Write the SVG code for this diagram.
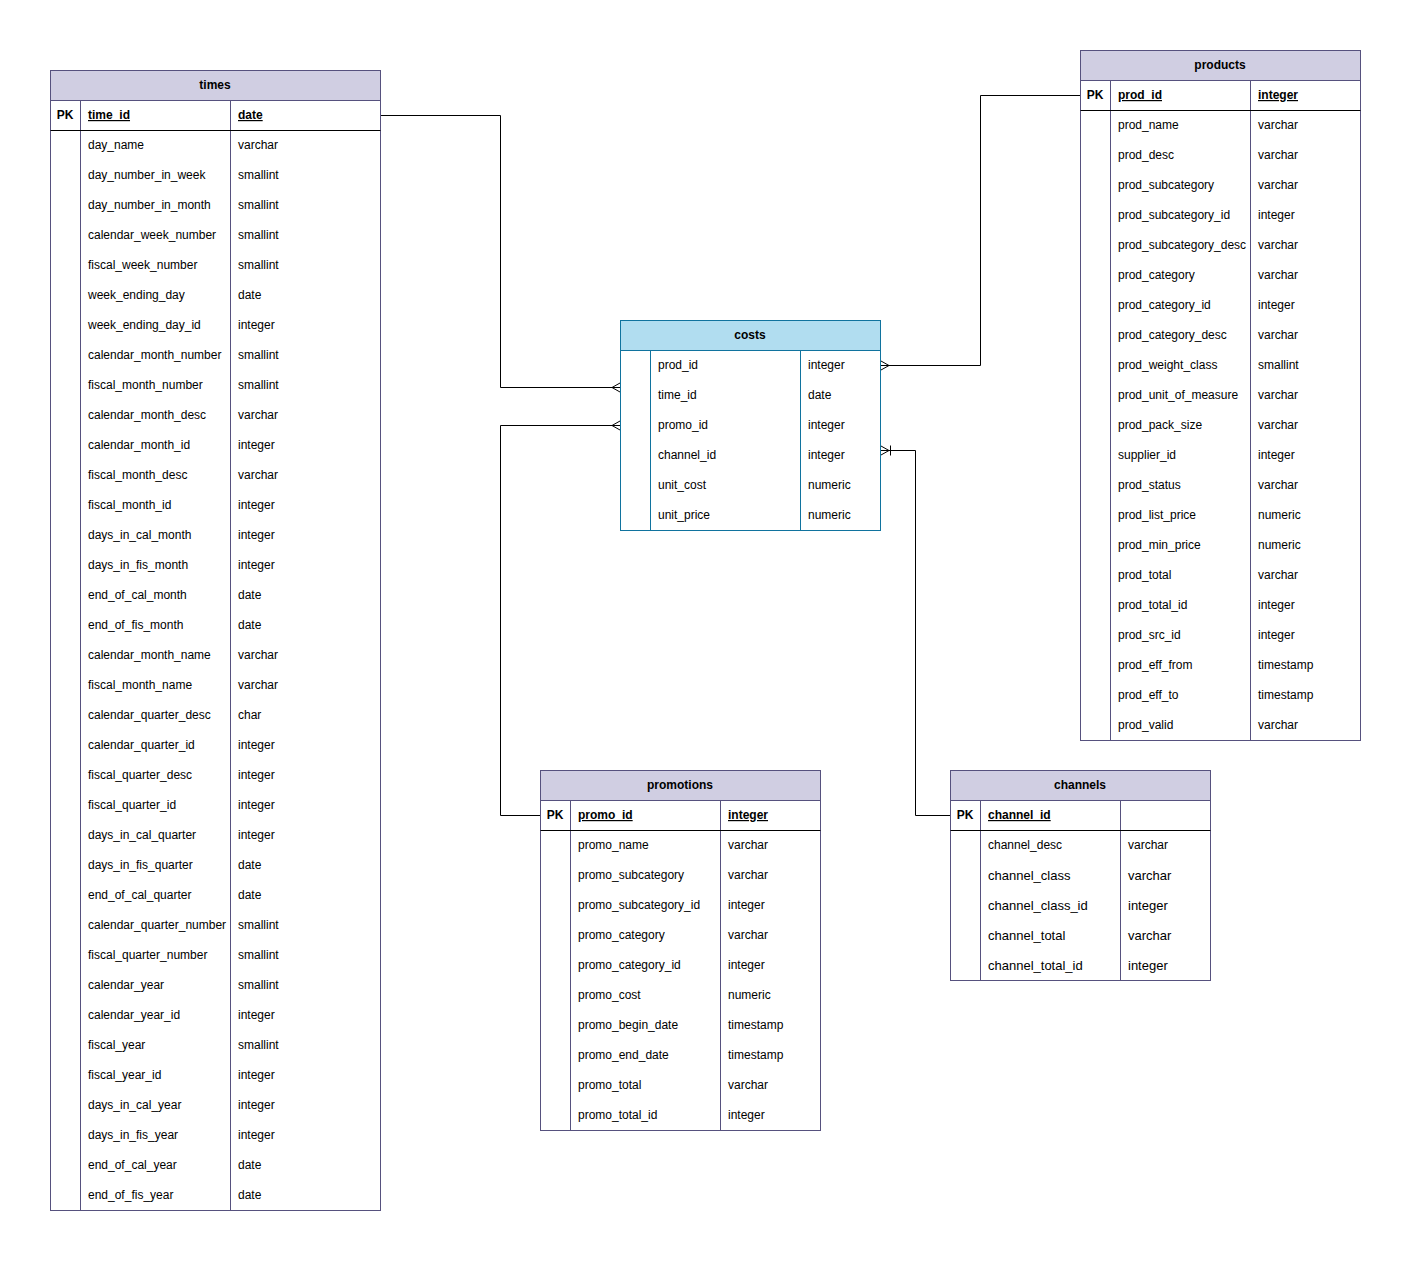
<svg xmlns="http://www.w3.org/2000/svg" width="1411" height="1261" viewBox="0 0 1411 1261">
  <style>
    text { font-family: "Liberation Sans", Arial, sans-serif; font-size: 12px; fill: #000; }
    .title { font-weight: bold; text-anchor: middle; }
    .pk { font-weight: bold; text-anchor: middle; }
    .key { font-weight: bold; text-decoration: underline; }
    .big { font-size: 13px; }
    .frame { fill: #fff; stroke: #56517e; stroke-width: 1; }
    .head { fill: #d0cee2; stroke: #56517e; stroke-width: 1; }
    .div { stroke: #56517e; stroke-width: 1; fill: none; }
    .sep { stroke: #000; stroke-width: 1; fill: none; }
    .bframe { fill: #fff; stroke: #10739e; stroke-width: 1; }
    .bhead { fill: #b1ddf0; stroke: #10739e; stroke-width: 1; }
    .bdiv { stroke: #10739e; stroke-width: 1; fill: none; }
    .wire { stroke: #000; stroke-width: 1; fill: none; }
  </style>

  <!-- relationship lines with crow's-foot ends -->
  <g id="connectors">
    <!-- times.time_id to costs -->
    <path class="wire" d="M380.5 115.5 H500.5 V387.5 H620"/>
    <path class="wire" d="M620 383 L612 387.5 L620 392"/>
    <!-- promotions.promo_id to costs -->
    <path class="wire" d="M540 815.5 H500.5 V425.5 H620"/>
    <path class="wire" d="M620 421 L612 425.5 L620 430"/>
    <!-- products.prod_id to costs -->
    <path class="wire" d="M1080 95.5 H980.5 V365.5 H881"/>
    <path class="wire" d="M881 361 L889 365.5 L881 370"/>
    <!-- channels.channel_id to costs -->
    <path class="wire" d="M950 815.5 H915.5 V450.5 H881"/>
    <path class="wire" d="M881 446 L889 450.5 L881 455"/>
    <path class="wire" d="M890.5 445.5 V455.5"/>
  </g>

  <!-- times -->
  <g id="times">
    <rect class="frame" x="50.5" y="70.5" width="330" height="1140"/>
    <rect class="head" x="50.5" y="70.5" width="330" height="30"/>
    <path class="div" d="M80.5 100.5 V1210.5 M230.5 100.5 V1210.5"/>
    <path class="sep" d="M50.5 130.5 H380.5"/>
    <text class="title" x="215" y="89">times</text>
    <text class="pk" x="65" y="119">PK</text>
    <text class="key" x="88" y="119">time_id</text>
    <text class="key" x="238" y="119">date</text>
    <g transform="translate(0,149)">
      <text x="88" y="0">day_name</text><text x="238" y="0">varchar</text>
      <text x="88" y="30">day_number_in_week</text><text x="238" y="30">smallint</text>
      <text x="88" y="60">day_number_in_month</text><text x="238" y="60">smallint</text>
      <text x="88" y="90">calendar_week_number</text><text x="238" y="90">smallint</text>
      <text x="88" y="120">fiscal_week_number</text><text x="238" y="120">smallint</text>
      <text x="88" y="150">week_ending_day</text><text x="238" y="150">date</text>
      <text x="88" y="180">week_ending_day_id</text><text x="238" y="180">integer</text>
      <text x="88" y="210">calendar_month_number</text><text x="238" y="210">smallint</text>
      <text x="88" y="240">fiscal_month_number</text><text x="238" y="240">smallint</text>
      <text x="88" y="270">calendar_month_desc</text><text x="238" y="270">varchar</text>
      <text x="88" y="300">calendar_month_id</text><text x="238" y="300">integer</text>
      <text x="88" y="330">fiscal_month_desc</text><text x="238" y="330">varchar</text>
      <text x="88" y="360">fiscal_month_id</text><text x="238" y="360">integer</text>
      <text x="88" y="390">days_in_cal_month</text><text x="238" y="390">integer</text>
      <text x="88" y="420">days_in_fis_month</text><text x="238" y="420">integer</text>
      <text x="88" y="450">end_of_cal_month</text><text x="238" y="450">date</text>
      <text x="88" y="480">end_of_fis_month</text><text x="238" y="480">date</text>
      <text x="88" y="510">calendar_month_name</text><text x="238" y="510">varchar</text>
      <text x="88" y="540">fiscal_month_name</text><text x="238" y="540">varchar</text>
      <text x="88" y="570">calendar_quarter_desc</text><text x="238" y="570">char</text>
      <text x="88" y="600">calendar_quarter_id</text><text x="238" y="600">integer</text>
      <text x="88" y="630">fiscal_quarter_desc</text><text x="238" y="630">integer</text>
      <text x="88" y="660">fiscal_quarter_id</text><text x="238" y="660">integer</text>
      <text x="88" y="690">days_in_cal_quarter</text><text x="238" y="690">integer</text>
      <text x="88" y="720">days_in_fis_quarter</text><text x="238" y="720">date</text>
      <text x="88" y="750">end_of_cal_quarter</text><text x="238" y="750">date</text>
      <text x="88" y="780">calendar_quarter_number</text><text x="238" y="780">smallint</text>
      <text x="88" y="810">fiscal_quarter_number</text><text x="238" y="810">smallint</text>
      <text x="88" y="840">calendar_year</text><text x="238" y="840">smallint</text>
      <text x="88" y="870">calendar_year_id</text><text x="238" y="870">integer</text>
      <text x="88" y="900">fiscal_year</text><text x="238" y="900">smallint</text>
      <text x="88" y="930">fiscal_year_id</text><text x="238" y="930">integer</text>
      <text x="88" y="960">days_in_cal_year</text><text x="238" y="960">integer</text>
      <text x="88" y="990">days_in_fis_year</text><text x="238" y="990">integer</text>
      <text x="88" y="1020">end_of_cal_year</text><text x="238" y="1020">date</text>
      <text x="88" y="1050">end_of_fis_year</text><text x="238" y="1050">date</text>
    </g>
  </g>

  <!-- costs -->
  <g id="costs">
    <rect class="bframe" x="620.5" y="320.5" width="260" height="210"/>
    <rect class="bhead" x="620.5" y="320.5" width="260" height="30"/>
    <path class="bdiv" d="M650.5 350.5 V530.5 M800.5 350.5 V530.5"/>
    <text class="title" x="750" y="339">costs</text>
    <g transform="translate(0,369)">
      <text x="658" y="0">prod_id</text><text x="808" y="0">integer</text>
      <text x="658" y="30">time_id</text><text x="808" y="30">date</text>
      <text x="658" y="60">promo_id</text><text x="808" y="60">integer</text>
      <text x="658" y="90">channel_id</text><text x="808" y="90">integer</text>
      <text x="658" y="120">unit_cost</text><text x="808" y="120">numeric</text>
      <text x="658" y="150">unit_price</text><text x="808" y="150">numeric</text>
    </g>
  </g>

  <!-- products -->
  <g id="products">
    <rect class="frame" x="1080.5" y="50.5" width="280" height="690"/>
    <rect class="head" x="1080.5" y="50.5" width="280" height="30"/>
    <path class="div" d="M1110.5 80.5 V740.5 M1250.5 80.5 V740.5"/>
    <path class="sep" d="M1080.5 110.5 H1360.5"/>
    <text class="title" x="1220" y="69">products</text>
    <text class="pk" x="1095" y="99">PK</text>
    <text class="key" x="1118" y="99">prod_id</text>
    <text class="key" x="1258" y="99">integer</text>
    <g transform="translate(0,129)">
      <text x="1118" y="0">prod_name</text><text x="1258" y="0">varchar</text>
      <text x="1118" y="30">prod_desc</text><text x="1258" y="30">varchar</text>
      <text x="1118" y="60">prod_subcategory</text><text x="1258" y="60">varchar</text>
      <text x="1118" y="90">prod_subcategory_id</text><text x="1258" y="90">integer</text>
      <text x="1118" y="120">prod_subcategory_desc</text><text x="1258" y="120">varchar</text>
      <text x="1118" y="150">prod_category</text><text x="1258" y="150">varchar</text>
      <text x="1118" y="180">prod_category_id</text><text x="1258" y="180">integer</text>
      <text x="1118" y="210">prod_category_desc</text><text x="1258" y="210">varchar</text>
      <text x="1118" y="240">prod_weight_class</text><text x="1258" y="240">smallint</text>
      <text x="1118" y="270">prod_unit_of_measure</text><text x="1258" y="270">varchar</text>
      <text x="1118" y="300">prod_pack_size</text><text x="1258" y="300">varchar</text>
      <text x="1118" y="330">supplier_id</text><text x="1258" y="330">integer</text>
      <text x="1118" y="360">prod_status</text><text x="1258" y="360">varchar</text>
      <text x="1118" y="390">prod_list_price</text><text x="1258" y="390">numeric</text>
      <text x="1118" y="420">prod_min_price</text><text x="1258" y="420">numeric</text>
      <text x="1118" y="450">prod_total</text><text x="1258" y="450">varchar</text>
      <text x="1118" y="480">prod_total_id</text><text x="1258" y="480">integer</text>
      <text x="1118" y="510">prod_src_id</text><text x="1258" y="510">integer</text>
      <text x="1118" y="540">prod_eff_from</text><text x="1258" y="540">timestamp</text>
      <text x="1118" y="570">prod_eff_to</text><text x="1258" y="570">timestamp</text>
      <text x="1118" y="600">prod_valid</text><text x="1258" y="600">varchar</text>
    </g>
  </g>

  <!-- promotions -->
  <g id="promotions">
    <rect class="frame" x="540.5" y="770.5" width="280" height="360"/>
    <rect class="head" x="540.5" y="770.5" width="280" height="30"/>
    <path class="div" d="M570.5 800.5 V1130.5 M720.5 800.5 V1130.5"/>
    <path class="sep" d="M540.5 830.5 H820.5"/>
    <text class="title" x="680" y="789">promotions</text>
    <text class="pk" x="555" y="819">PK</text>
    <text class="key" x="578" y="819">promo_id</text>
    <text class="key" x="728" y="819">integer</text>
    <g transform="translate(0,849)">
      <text x="578" y="0">promo_name</text><text x="728" y="0">varchar</text>
      <text x="578" y="30">promo_subcategory</text><text x="728" y="30">varchar</text>
      <text x="578" y="60">promo_subcategory_id</text><text x="728" y="60">integer</text>
      <text x="578" y="90">promo_category</text><text x="728" y="90">varchar</text>
      <text x="578" y="120">promo_category_id</text><text x="728" y="120">integer</text>
      <text x="578" y="150">promo_cost</text><text x="728" y="150">numeric</text>
      <text x="578" y="180">promo_begin_date</text><text x="728" y="180">timestamp</text>
      <text x="578" y="210">promo_end_date</text><text x="728" y="210">timestamp</text>
      <text x="578" y="240">promo_total</text><text x="728" y="240">varchar</text>
      <text x="578" y="270">promo_total_id</text><text x="728" y="270">integer</text>
    </g>
  </g>

  <!-- channels -->
  <g id="channels">
    <rect class="frame" x="950.5" y="770.5" width="260" height="210"/>
    <rect class="head" x="950.5" y="770.5" width="260" height="30"/>
    <path class="div" d="M980.5 800.5 V980.5 M1120.5 800.5 V980.5"/>
    <path class="sep" d="M950.5 830.5 H1210.5"/>
    <text class="title" x="1080" y="789">channels</text>
    <text class="pk" x="965" y="819">PK</text>
    <text class="key" x="988" y="819">channel_id</text>
    <g transform="translate(0,849)">
      <text x="988" y="0">channel_desc</text><text x="1128" y="0">varchar</text>
      <text class="big" x="988" y="30.5">channel_class</text><text class="big" x="1128" y="30.5">varchar</text>
      <text class="big" x="988" y="60.5">channel_class_id</text><text class="big" x="1128" y="60.5">integer</text>
      <text class="big" x="988" y="90.5">channel_total</text><text class="big" x="1128" y="90.5">varchar</text>
      <text class="big" x="988" y="120.5">channel_total_id</text><text class="big" x="1128" y="120.5">integer</text>
    </g>
  </g>
</svg>
